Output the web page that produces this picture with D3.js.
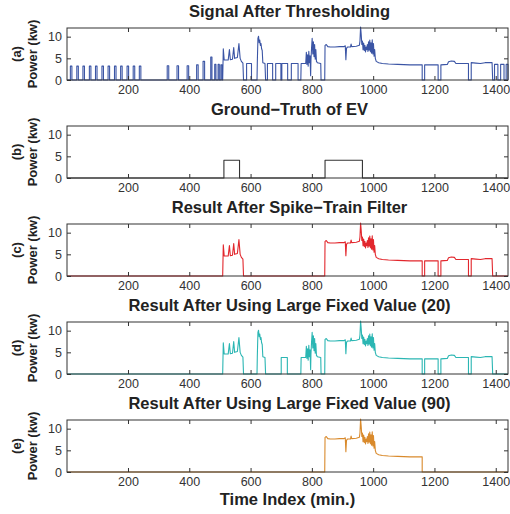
<!DOCTYPE html>
<html>
<head>
<meta charset="utf-8">
<script src="https://cdn.jsdelivr.net/npm/d3@7"></script>
<style>
  body { margin: 0; background: #fff; }
  text { font-family: "Liberation Sans", Arial, sans-serif; }
</style>
</head>
<body>
<div id="chart"></div>
<script>
// ---- data ----
var xTicks = [200, 400, 600, 800, 1000, 1200, 1400];
var yTicks = [0, 5, 10];
var panelTitles = ["Signal After Thresholding", "Ground\u2212Truth of EV", "Result After Spike\u2212Train Filter",
                   "Result After Using Large Fixed Value (20)", "Result After Using Large Fixed Value (90)"];
var panelLetters = ["(a)", "(b)", "(c)", "(d)", "(e)"];

// short spikes [start, end, kw] only left in the thresholded signal
var spikesA = [[12,17,3.2],[33,38,3.2],[53,58,3.2],[74,79,3.2],[94,99,3.2],[115,120,3.2],[135,140,3.2],
               [156,161,3.2],[176,181,3.2],[197,202,3.2],[217,222,3.2],[237,242,3.2],
               [328,333,3.3],[360,365,3.3],[393,398,3.3],[424,429,3.5],[445,450,4.3],[470,474,5.3],
               [483,487,3.6],[494,498,3.6],[503,507,3.5]];
// rectangular appliance blocks [start, end, kw]
var blocksA = [[587,603,3.8],[655,672,3.8],[682,699,3.8],[702,721,3.8],[733,755,3.8]];
var blocksD = [[700,720,3.8]];
var lateBlocksA = [[1396,1407,3.6],[1416,1427,3.6],[1434,1440,3.6]];

var evGround = [[1,0],[513,0],[513,4.1],[564,4.1],[564,0],[843,0],[843,4.1],[965,4.1],[965,0],[1440,0]];

var charge1 = [[509,0],[511,7.2],[514,4.6],[527,4.6],[531,7.0],[534,4.7],[541,4.8],[545,7.5],[548,5.0],
               [557,5.2],[562,8.4],[566,5.0],[570,4.3],[575,3.9],[577,0]];
var peak625 = [[621,0],[622,4.0],[624,9.6],[626,10.1],[628,8.6],[630,9.2],[632,8.0],[634,8.4],[636,7.2],
               [638,6.8],[640,4.0],[647,3.8],[649,0]];
var noise800 = [[764,0],[765,3.8],[780,3.8],[782,6.4],[784,3.6],[786,5.8],[788,3.2],[790,6.6],[792,4.0],
                [794,5.6],[796,1.0],[797,4.5],[799,7.4],[801,9.6],[803,6.0],[805,8.8],[807,5.4],[809,8.2],
                [811,4.8],[813,7.0],[815,4.3],[818,4.0],[829,3.8],[830,0]];
var charge2 = [[842,0],[843,8.0],[847,8.2],[852,7.7],[860,7.6],[875,7.6],[890,7.7],[905,7.7],[909,7.9],
               [911,4.7],[913,7.3],[916,7.6],[926,7.6],[928,8.3],[930,7.7],[945,7.8],[955,8.0],[957,9.0],
               [959,12.2],[961,10.5],[963,8.2],[965,9.0],[967,7.0],[969,8.5],[971,6.8],[973,8.0],[975,6.5],
               [977,7.6],[979,7.0],[981,8.2],[983,6.6],[985,8.8],[987,6.9],[989,9.2],[991,6.5],[993,8.6],
               [995,6.2],[997,9.3],[999,6.0],[1001,8.4],[1003,5.5],[1005,7.0],[1007,5.0],[1010,4.3],
               [1018,4.0],[1030,3.8],[1050,3.7],[1080,3.6],[1120,3.5],[1160,3.5]];
var tail = [[1160,0],[1168,0],[1168,3.5],[1212,3.5],[1212,0],[1221,0],[1221,3.5],[1242,3.6],[1246,4.2],
            [1255,4.4],[1265,4.3],[1270,3.8],[1290,3.8],[1311,3.8],[1311,0],[1320,0],[1320,4.0],[1335,3.9],
            [1350,3.8],[1365,4.0],[1388,4.0],[1390,0]];
var stopE = [[1160,0]];

var lineColors = ["#3b55a5", "#333333", "#e2272d", "#2bb6b3", "#d98a2c"];

// ---- helpers ----
function boxes(list) {
    var pts = [];
    list.forEach(function (b) { pts.push([b[0], 0], [b[0], b[2]], [b[1], b[2]], [b[1], 0]); });
    return pts;
}
function series(parts) {
    var pts = [[1, 0]];
    parts.forEach(function (p) { pts = pts.concat(p); });
    pts.sort(function (a, b) { return a[0] - b[0]; });   // stable: keeps step order
    pts.push([1440, 0]);
    return pts;
}

var panelData = [
    series([boxes(spikesA), charge1, boxes(blocksA), peak625, noise800, charge2, tail, boxes(lateBlocksA)]),
    evGround,
    series([charge1, charge2, tail]),
    series([charge1, peak625, boxes(blocksD), noise800, charge2, tail]),
    series([charge2, stopE])
];

// ---- layout ----
var width = 510, height = 514;
var left = 67, right = 508, plotH = 52, step = 98, top0 = 28;

var svg = d3.select("#chart").append("svg").attr("width", width).attr("height", height);

var x = d3.scaleLinear().domain([1, 1440]).range([left, right]);

panelData.forEach(function (data, i) {
    var top = top0 + i * step;
    var y = d3.scaleLinear().domain([0, 12]).range([top + plotH, top]);
    var g = svg.append("g");

    g.append("rect").attr("x", left).attr("y", top).attr("width", right - left).attr("height", plotH)
        .attr("fill", "#fff");

    var line = d3.line().x(function (d) { return x(d[0]); }).y(function (d) { return y(d[1]); });
    g.append("path").datum(data).attr("d", line).attr("fill", "none")
        .attr("stroke", lineColors[i]).attr("stroke-width", 1.1).attr("stroke-linejoin", "round");

    // axes, ticks inside like matlab
    var ax = [
        g.append("g").attr("transform", "translate(0," + (top + plotH) + ")")
            .call(d3.axisBottom(x).tickValues(xTicks).tickSize(-4).tickPadding(5).tickFormat(d3.format("d"))),
        g.append("g").attr("transform", "translate(0," + top + ")")
            .call(d3.axisTop(x).tickValues(xTicks).tickSize(-4).tickFormat("")),
        g.append("g").attr("transform", "translate(" + left + ",0)")
            .call(d3.axisLeft(y).tickValues(yTicks).tickSize(-4).tickPadding(5)),
        g.append("g").attr("transform", "translate(" + right + ",0)")
            .call(d3.axisRight(y).tickValues(yTicks).tickSize(-4).tickFormat(""))
    ];
    ax.forEach(function (a) {
        a.select(".domain").remove();
        a.selectAll("line").attr("stroke", "#333");
        a.selectAll("text").attr("fill", "#333").style("font-size", "12.5px");
    });

    g.append("rect").attr("x", left).attr("y", top).attr("width", right - left).attr("height", plotH)
        .attr("fill", "none").attr("stroke", "#333").attr("stroke-width", 1);

    // title
    g.append("text").attr("x", (left + right) / 2 + 2).attr("y", top - 11)
        .attr("text-anchor", "middle").style("font-size", "16.5px").style("font-weight", "bold")
        .attr("fill", "#222").text(panelTitles[i]);

    // y label, two lines
    var cy = top + plotH / 2;
    g.append("text").attr("transform", "translate(21," + cy + ") rotate(-90)")
        .attr("text-anchor", "middle").style("font-size", "13px").style("font-weight", "bold")
        .attr("fill", "#222").text(panelLetters[i]);
    g.append("text").attr("transform", "translate(37," + cy + ") rotate(-90)")
        .attr("text-anchor", "middle").style("font-size", "13px").style("font-weight", "bold")
        .attr("fill", "#222").text("Power (kw)");
});

svg.append("text").attr("x", (left + right) / 2).attr("y", 505)
    .attr("text-anchor", "middle").style("font-size", "16.5px").style("font-weight", "bold")
    .attr("fill", "#222").text("Time Index (min.)");
</script>
</body>
</html>
